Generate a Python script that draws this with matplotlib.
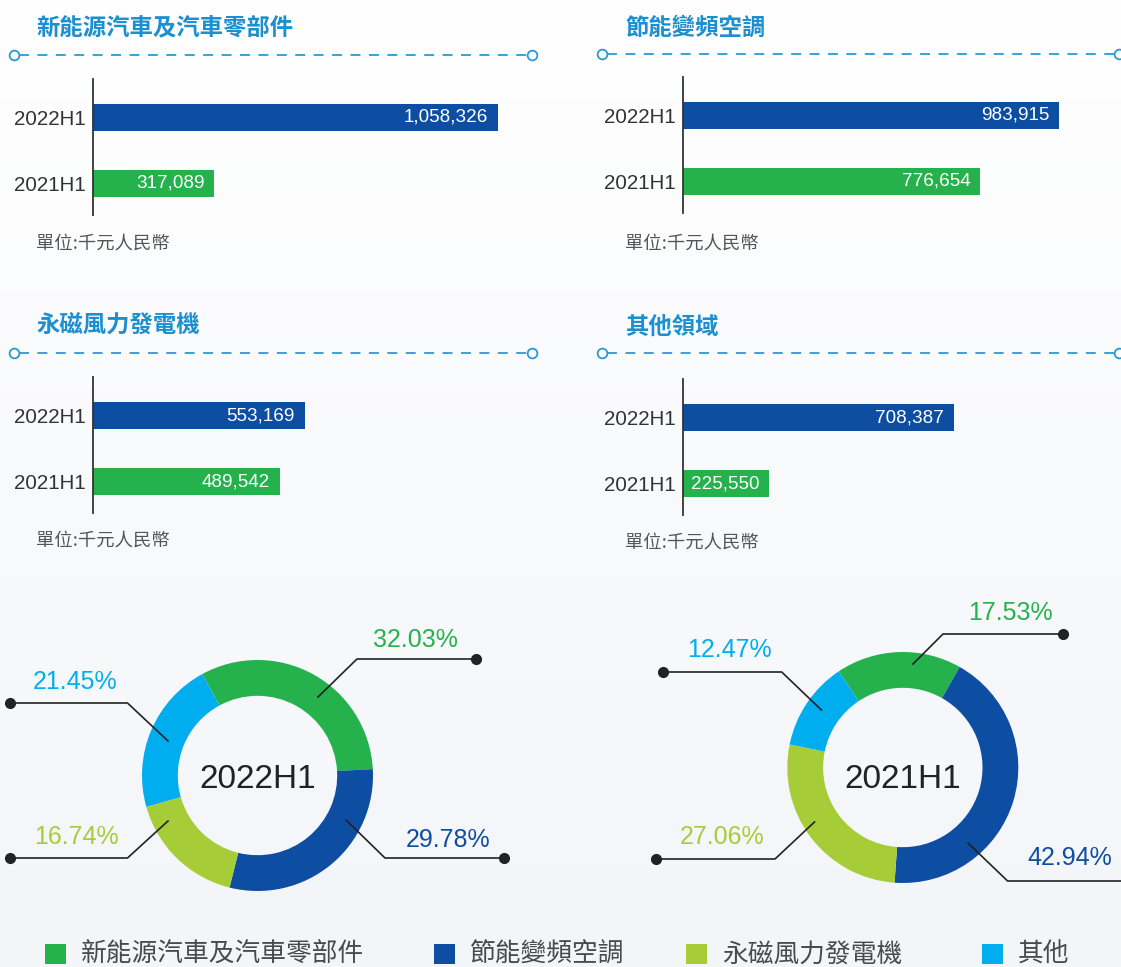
import matplotlib
matplotlib.use('Agg')
import matplotlib.pyplot as plt
import numpy as np
from matplotlib.colors import LinearSegmentedColormap
from matplotlib.patches import Rectangle

W, H = 1121, 967
DPI = 100

# ---------------- data ----------------
segments = ['新能源汽車及汽車零部件', '節能變頻空調', '永磁風力發電機', '其他領域']
legend_labels = ['新能源汽車及汽車零部件', '節能變頻空調', '永磁風力發電機', '其他']
periods = ['2022H1', '2021H1']
rev_2022 = [1058326, 983915, 553169, 708387]
rev_2021 = [317089, 776654, 489542, 225550]
share_2022 = [32.03, 29.78, 16.74, 21.45]
share_2021 = [17.53, 42.94, 27.06, 12.47]
unit_label = '單位:千元人民幣'

C_BLUE = '#0d4ea2'
C_GREEN = '#25b14c'
C_LIME = '#a6cd38'
C_CYAN = '#00aeef'
seg_colors = [C_GREEN, C_BLUE, C_LIME, C_CYAN]
bar_colors = [C_BLUE, C_GREEN]
TITLE_C = '#1b8fcf'
DASH_C = '#2a9ad6'

CJK = ['Noto Sans CJK TC', 'DejaVu Sans']
LAT = ['Liberation Sans', 'DejaVu Sans']

fig = plt.figure(figsize=(W / DPI, H / DPI), dpi=DPI)
fig.patch.set_facecolor('white')

# background gradient
bg = fig.add_axes([0, 0, 1, 1], zorder=-10)
grad = np.linspace(0, 1, 256).reshape(-1, 1)
cm = LinearSegmentedColormap.from_list('bg', ['#ffffff', '#f3f5f9'])
bg.imshow(grad, aspect='auto', cmap=cm, extent=[0, 1, 0, 1], origin='upper')
bg.set_axis_off()

# overlay in pixel coordinates
ov = fig.add_axes([0, 0, 1, 1], zorder=5)
ov.set_xlim(0, W)
ov.set_ylim(H, 0)
ov.set_axis_off()
ov.patch.set_alpha(0)


def fax(x, y, w, h):
    """pixel box (left, top, width, height) -> figure axes rect"""
    return [x / W, 1 - (y + h) / H, w / W, h / H]


# ---------------- bar panels ----------------
# (axis_x, axis_top, title_x, title_y, dash_y, dash_x0, dash_x1, unit_y)
panels = [
    (93, 79, 36, 27, 55, 14, 532, 244),
    (683, 77, 625, 28, 54, 602, 1119, 244),
    (93, 377, 36, 325, 353, 14, 532, 541),
    (683, 379, 625, 327, 353, 602, 1119, 543),
]
AX_H = 136
AX_W = 440
XMAX = 1150000
UNIT = 66.0

for k, (axx, axt, tx, ty, dy, dx0, dx1, uy) in enumerate(panels):
    ax = fig.add_axes(fax(axx, axt, AX_W, AX_H), zorder=3)
    vals = [rev_2022[k], rev_2021[k]]
    ypos = np.arange(len(periods))
    ax.barh(ypos, vals, height=27 / UNIT, color=bar_colors, edgecolor='none')
    ax.set_xlim(0, XMAX)
    ax.set_ylim(1 + 31.5 / UNIT, -38.5 / UNIT)
    ax.set_yticks(ypos)
    ax.set_yticklabels(periods, fontsize=14.8, color='#333333', family=LAT)
    ax.tick_params(axis='y', length=0, pad=5)
    ax.set_xticks([])
    for s in ['top', 'right', 'bottom']:
        ax.spines[s].set_visible(False)
    ax.spines['left'].set_color('#333333')
    ax.spines['left'].set_linewidth(1.3)
    ax.patch.set_alpha(0)
    for i, v in enumerate(vals):
        ax.annotate(f'{v:,}', xy=(v, i), xytext=(-10, 0), textcoords='offset pixels',
                    ha='right', va='center', color='white', fontsize=13.6, family=LAT)

    ov.text(tx, ty, segments[k], fontsize=16.8, fontweight='bold', color=TITLE_C,
            family=CJK, ha='left', va='center')
    ov.plot([dx0 + 5, dx1 - 5], [dy, dy], color=DASH_C, lw=1.3, ls=(0, (5.5, 4.7)))
    ov.plot([dx0, dx1], [dy, dy], 'o', mfc='white', mec=DASH_C, ms=7, mew=1.3)
    ov.text(tx, uy, unit_label, fontsize=13.2, color='#555555', family=CJK,
            ha='left', va='center')

# ---------------- donuts ----------------
R = 115.5
donuts = [
    dict(cx=257.5, cy=775.5, shares=share_2022, label='2022H1', start=118.5,
         leaders=[((318, 697), (357, 659), (476, 659), (415.5, 640)),
                  ((346, 820), (385, 858), (504, 858), (448, 840)),
                  ((168, 821), (127.5, 858), (9.6, 858), (76.5, 837)),
                  ((168, 741), (127.5, 703), (9.6, 703), (75.5, 682))]),
    dict(cx=902.8, cy=767.5, shares=share_2021, label='2021H1', start=123.6,
         leaders=[((913, 664), (943, 634), (1063, 634), (1010, 613)),
                  ((968, 843), (1007.6, 881), (1130, 881), (1070, 858)),
                  ((814.5, 822), (775, 859), (656, 859), (722, 837)),
                  ((821.4, 710), (781.7, 672), (663, 672), (729, 650))]),
]

for d in donuts:
    cx, cy = d['cx'], d['cy']
    axd = fig.add_axes(fax(cx - R, cy - R, 2 * R, 2 * R), zorder=3)
    axd.pie(d['shares'], colors=seg_colors, startangle=d['start'], counterclock=False,
            radius=1, wedgeprops=dict(width=0.31, edgecolor='none', linewidth=0))
    axd.set_xlim(-1, 1)
    axd.set_ylim(-1, 1)
    axd.set_axis_off()
    ov.text(cx, 780, d['label'], fontsize=24, color='#222222', family=LAT,
            ha='center', va='center')
    for j, (p0, p1, p2, tp) in enumerate(d['leaders']):
        ov.plot([p0[0], p1[0], p2[0]], [p0[1], p1[1], p2[1]], color='#222222', lw=1.2)
        ov.plot([p2[0]], [p2[1]], 'o', color='#222222', ms=7)
        ov.text(tp[0], tp[1], f"{d['shares'][j]:.2f}%", fontsize=18,
                color=seg_colors[j], family=LAT, ha='center', va='center')

# ---------------- legend ----------------
leg_sq_x = [45, 434, 686, 982]
for lx, lab, col in zip(leg_sq_x, legend_labels, seg_colors):
    ov.add_patch(Rectangle((lx, 944), 21, 20, facecolor=col, edgecolor='none'))
    ov.text(lx + 36, 955, lab, fontsize=18.5, color='#4a4a4a', family=CJK,
            fontweight='light', ha='left', va='center')

fig.savefig('out.png', dpi=DPI)
